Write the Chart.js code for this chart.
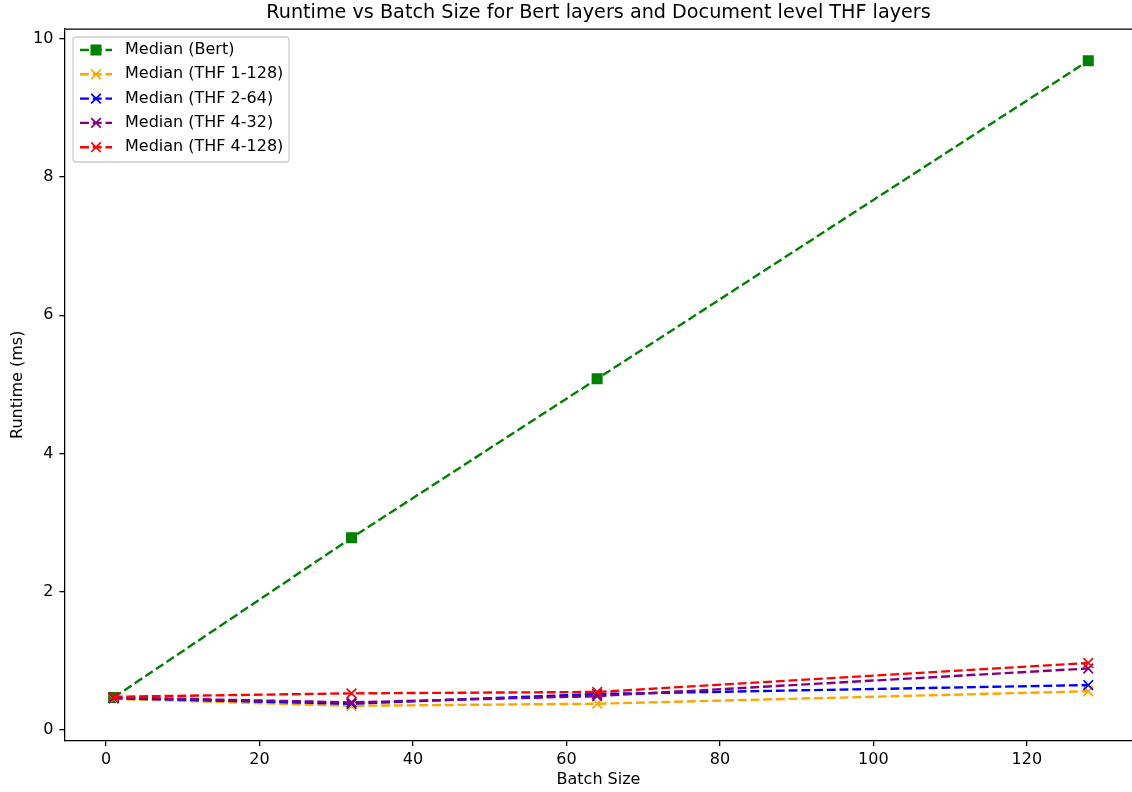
<!DOCTYPE html>
<html>
<head>
<meta charset="utf-8">
<script src="https://cdn.jsdelivr.net/npm/chart.js@4.4.0/dist/chart.umd.min.js"></script>
<style>
  html, body { margin: 0; padding: 0; background: #ffffff; }
  #wrap { width: 1132px; height: 792px; }
</style>
</head>
<body>
<div id="wrap"><canvas id="c" width="1132" height="792"></canvas></div>
<script>
// ---- data ----
const batchSizes = [1, 32, 64, 128];
const seriesLabels = ["Median (Bert)", "Median (THF 1-128)", "Median (THF 2-64)", "Median (THF 4-32)", "Median (THF 4-128)"];
const bertValues   = [0.47, 2.78, 5.08, 9.68];
const thf1_128     = [0.45, 0.35, 0.38, 0.56];
const thf2_64      = [0.46, 0.38, 0.52, 0.65];
const thf4_32      = [0.47, 0.40, 0.49, 0.89];
const thf4_128     = [0.48, 0.53, 0.55, 0.97];
const xTicks = [0, 20, 40, 60, 80, 100, 120];
const yTicks = [0, 2, 4, 6, 8, 10];

const seriesValues = [bertValues, thf1_128, thf2_64, thf4_32, thf4_128];
const seriesColors = ["#008000", "#FFA500", "#0000FF", "#800080", "#FF0000"];
const seriesMarkers = ["rect", "crossRot", "crossRot", "crossRot", "crossRot"];

const FONT = "'DejaVu Sans', sans-serif";
const LW = 2.4;
const DASH = [8.9, 3.84];

const datasets = seriesValues.map((vals, i) => ({
  label: seriesLabels[i],
  data: batchSizes.map((x, j) => ({ x: x, y: vals[j] })),
  borderColor: seriesColors[i],
  backgroundColor: seriesColors[i],
  borderWidth: LW,
  borderDash: DASH,
  pointStyle: seriesMarkers[i],
  pointRadius: 6.8,
  pointHoverRadius: 6.8,
  pointBorderWidth: seriesMarkers[i] === 'rect' ? 1.4 : 1.7,
  pointBackgroundColor: seriesColors[i],
  pointBorderColor: seriesColors[i],
  tension: 0,
  fill: false,
  clip: false,
  order: seriesValues.length - i
}));

const framePlugin = {
  id: 'frame',
  afterDraw(chart) {
    const ctx = chart.ctx, a = chart.chartArea;
    ctx.save();
    ctx.strokeStyle = '#000';
    ctx.lineWidth = 1.28;
    ctx.beginPath();
    ctx.moveTo(a.left, a.top);
    ctx.lineTo(a.right, a.top);
    ctx.stroke();
    ctx.restore();
  }
};

const legendPlugin = {
  id: 'mplLegend',
  afterDraw(chart) {
    const ctx = chart.ctx;
    const x0 = 73, y0 = 37, w = 216, h = 125, r = 3;
    ctx.save();
    ctx.beginPath();
    ctx.moveTo(x0 + r, y0);
    ctx.lineTo(x0 + w - r, y0);
    ctx.quadraticCurveTo(x0 + w, y0, x0 + w, y0 + r);
    ctx.lineTo(x0 + w, y0 + h - r);
    ctx.quadraticCurveTo(x0 + w, y0 + h, x0 + w - r, y0 + h);
    ctx.lineTo(x0 + r, y0 + h);
    ctx.quadraticCurveTo(x0, y0 + h, x0, y0 + h - r);
    ctx.lineTo(x0, y0 + r);
    ctx.quadraticCurveTo(x0, y0, x0 + r, y0);
    ctx.closePath();
    ctx.fillStyle = 'rgba(255,255,255,0.8)';
    ctx.fill();
    ctx.strokeStyle = '#cccccc';
    ctx.lineWidth = 1.28;
    ctx.stroke();

    chart.data.datasets.forEach((ds, i) => {
      const cy = 50 + i * 24.3;
      ctx.save();
      ctx.strokeStyle = ds.borderColor;
      ctx.lineWidth = LW;
      ctx.setLineDash(DASH);
      ctx.beginPath();
      ctx.moveTo(80, cy);
      ctx.lineTo(112, cy);
      ctx.stroke();
      ctx.setLineDash([]);
      ctx.fillStyle = ds.pointBackgroundColor;
      ctx.strokeStyle = ds.pointBorderColor;
      ctx.lineWidth = ds.pointBorderWidth;
      Chart.helpers.drawPoint(ctx, { pointStyle: ds.pointStyle, radius: ds.pointRadius, rotation: 0, borderWidth: ds.pointBorderWidth }, 96, cy);
      ctx.restore();
      ctx.fillStyle = '#000';
      ctx.font = '16px ' + FONT;
      ctx.textAlign = 'left';
      ctx.textBaseline = 'middle';
      ctx.fillText(ds.label, 125, cy);
    });
    ctx.restore();
  }
};

new Chart(document.getElementById('c'), {
  type: 'line',
  data: { datasets: datasets },
  plugins: [framePlugin, legendPlugin],
  options: {
    responsive: false,
    animation: false,
    devicePixelRatio: 1,
    layout: { autoPadding: false, padding: { left: 0, right: 0, top: 0, bottom: 0 } },
    plugins: {
      legend: { display: false },
      tooltip: { enabled: false },
      title: {
        display: true,
        fullSize: false,
        text: 'Runtime vs Batch Size for Bert layers and Document level THF layers',
        color: '#000',
        font: { family: FONT, size: 19.2, weight: 'normal', lineHeight: 1.2 },
        padding: { top: 1.5, bottom: 4.5 }
      }
    },
    scales: {
      x: {
        type: 'linear',
        min: -5.34,
        max: 133.7,
        afterBuildTicks(scale) { scale.ticks = xTicks.map(v => ({ value: v })); },
        afterFit(scale) { scale.height = 51.5; scale.paddingLeft = 0; scale.paddingRight = 0; },
        grid: { display: true, drawOnChartArea: false, drawTicks: true, tickLength: 5.6, color: '#000', lineWidth: 1.28 },
        border: { display: true, color: '#000', width: 1.28 },
        ticks: { color: '#000', font: { family: FONT, size: 16 }, padding: 4, maxRotation: 0, autoSkip: false },
        title: { display: true, text: 'Batch Size', color: '#000', font: { family: FONT, size: 16, lineHeight: 1.2 }, padding: { top: 0, bottom: 2.4 } }
      },
      y: {
        type: 'linear',
        min: -0.152,
        max: 10.14,
        afterBuildTicks(scale) { scale.ticks = yTicks.map(v => ({ value: v })); },
        afterFit(scale) { scale.width = 65; scale.paddingTop = 0; scale.paddingBottom = 0; },
        grid: { display: true, drawOnChartArea: false, drawTicks: true, tickLength: 5.6, color: '#000', lineWidth: 1.28 },
        border: { display: true, color: '#000', width: 1.28 },
        ticks: { color: '#000', font: { family: FONT, size: 16 }, padding: 6, autoSkip: false },
        title: { display: true, text: 'Runtime (ms)', color: '#000', font: { family: FONT, size: 16, lineHeight: 1.2 }, padding: { top: 8.4, bottom: 0 } }
      }
    }
  }
});
</script>
</body>
</html>
